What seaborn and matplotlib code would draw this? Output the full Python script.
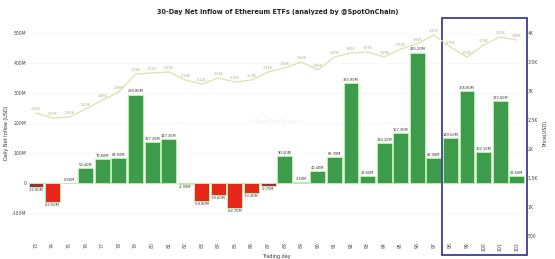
import numpy as np
import pandas as pd
import matplotlib
matplotlib.use('Agg')
import matplotlib.pyplot as plt
import matplotlib.transforms as mtransforms
from matplotlib.patches import Rectangle
import seaborn as sns

# Trading days and values
days = [str(d) for d in range(73, 103)]
net_inflow_m = [-12.9, -62.5, 0.0, 50.4, 79.6, 83.5, 294.8, 137.2, 147.3, -2.0,
                -59.8, -39.6, -82.7, -33.3, -9.7, 90.5, 3.3, 40.4, 86.7, 333.9,
                23.6, 133.1, 167.3, 435.2, 82.4, 149.5, 306.8, 102.1, 272.6, 23.6]
price = [2621, 2534, 2552, 2690, 2845, 2983, 3293, 3310, 3328, 3190,
         3120, 3224, 3155, 3190, 3328, 3397, 3500, 3362, 3586, 3655,
         3672, 3586, 3724, 3810, 3966, 3759, 3586, 3793, 3931, 3879]

left_ticks = [-100, 0, 100, 200, 300, 400, 500]
left_labels = ['-100M', '0', '100M', '200M', '300M', '400M', '500M']
right_ticks = [500, 1000, 1500, 2000, 2500, 3000, 3500, 4000]
right_labels = ['500', '1K', '1.5K', '2K', '2.5K', '3K', '3.5K', '4K']

df = pd.DataFrame({'day': days, 'flow': net_inflow_m, 'price': price})
df['pos'] = np.arange(len(df))


def bar_color(v):
    if v >= 0:
        return '#3e9b4b'
    if v > -20:
        return '#a02a45'
    return '#e8261c'


colors = [bar_color(v) for v in df['flow']]

sns.set_style('white')
plt.rcParams['font.family'] = ['DejaVu Sans']

fig = plt.figure(figsize=(5.55, 2.59), dpi=100)
ax = fig.add_axes([0.05, 0.081, 0.896, 0.811])

sns.barplot(data=df, x='day', y='flow', hue='day', palette=colors, legend=False,
            width=0.9, edgecolor='#b5f2a8', linewidth=0.7, saturation=1, ax=ax)

for i, v in enumerate(df['flow']):
    if v >= 0:
        ax.text(i, v + 4, f'{v:.2f}M', ha='center', va='bottom', fontsize=2.6, color='#333333')
    else:
        ax.text(i, v - 4, f'{v:.2f}M', ha='center', va='top', fontsize=2.6, color='#333333')

ax.set_xlim(-0.5, len(df) - 0.5)
ax.set_ylim(-183, 517)
ax.set_yticks(left_ticks)
ax.set_yticklabels(left_labels)
ax.tick_params(axis='y', labelsize=3.3, pad=1, length=0, colors='#444444')
ax.tick_params(axis='x', labelsize=3.3, pad=3, length=0, rotation=90, colors='#444444')
ax.set_xlabel('Trading day', fontsize=3.5, labelpad=2, color='#333333')
ax.set_ylabel('Daily Net Inflow (USD)', fontsize=3.5, labelpad=2, color='#333333')
ax.grid(axis='y', color='#f4f4f4', linewidth=0.4)
ax.set_axisbelow(True)
for s in ax.spines.values():
    s.set_visible(False)

ax2 = ax.twinx()
sns.lineplot(x=df['pos'], y=df['price'], color='#dde1ad', linewidth=0.9, ax=ax2)
for i, p in enumerate(df['price']):
    ax2.text(i, p + 40, f'{p / 1000:.2f}K', ha='center', va='bottom', fontsize=2.4,
             color='#a9ab80')
ax2.set_ylim(466, 4086)
ax2.set_yticks(right_ticks)
ax2.set_yticklabels(right_labels)
ax2.tick_params(axis='y', labelsize=3.3, pad=2, length=0, colors='#444444')
ax2.set_ylabel('Price(USD)', fontsize=3.5, labelpad=3, color='#333333')
ax2.set_xlabel('')
for s in ax2.spines.values():
    s.set_visible(False)

# highlight box around the last five days
trans = mtransforms.blended_transform_factory(ax.transData, ax.transAxes)
ax.add_patch(Rectangle((24.5, -0.081), 5.1, 1.129, transform=trans, fill=False,
                       edgecolor='#2b2f8f', linewidth=1.2, clip_on=False, zorder=10))

ax.text(0.5, 0.55, 'SpotOnChain', transform=ax.transAxes, ha='center', va='center',
        fontsize=5, color='#eeeeee', zorder=0)

fig.suptitle('30-Day Net Inflow of Ethereum ETFs (analyzed by @SpotOnChain)',
             fontsize=4.7, fontweight='bold', y=0.965, color='#222222')

fig.savefig('out.png', dpi=100)
